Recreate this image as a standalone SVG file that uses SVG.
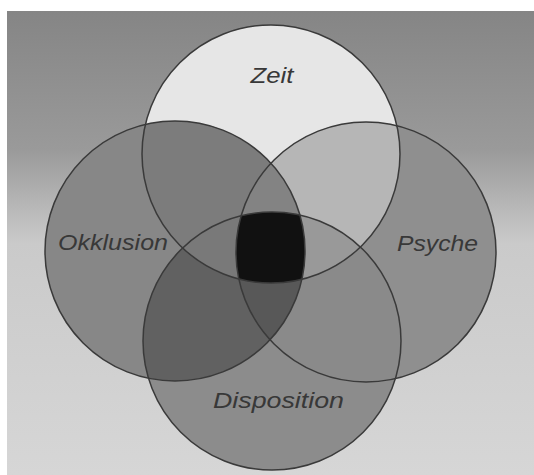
<svg xmlns="http://www.w3.org/2000/svg" width="534" height="475" viewBox="0 0 534 475">
  <defs>
    <linearGradient id="bg" x1="0" y1="0" x2="0" y2="1">
      <stop offset="0" stop-color="#858585"/>
      <stop offset="0.3" stop-color="#9a9a9a"/>
      <stop offset="0.5" stop-color="#cacaca"/>
      <stop offset="1" stop-color="#d6d6d6"/>
    </linearGradient>
    <clipPath id="cZ"><circle cx="271" cy="154" r="129"/></clipPath>
    <clipPath id="cO"><circle cx="175" cy="251" r="130"/></clipPath>
    <clipPath id="cP"><circle cx="366" cy="252" r="130"/></clipPath>
    <clipPath id="cD"><circle cx="272" cy="341" r="129"/></clipPath>
  </defs>
  <style>
    .outline { fill: none; stroke: #3a3a3a; stroke-width: 1.5; }
    .label { font-family: "Liberation Sans", Arial, sans-serif; font-style: italic; font-size: 22px; fill: #383838; }
  </style>
  <rect x="0" y="0" width="534" height="475" fill="#ffffff"/>
  <rect x="7" y="11" width="527" height="464" fill="url(#bg)"/>

  <g id="regions">
    <!-- single circles -->
    <circle cx="271" cy="154" r="129" fill="#e6e6e6"/>
    <circle cx="175" cy="251" r="130" fill="#878787"/>
    <circle cx="366" cy="252" r="130" fill="#8f8f8f"/>
    <circle cx="272" cy="341" r="129" fill="#8c8c8c"/>
    <!-- pairs -->
    <g clip-path="url(#cZ)"><circle cx="175" cy="251" r="130" fill="#7c7c7c"/></g>
    <g clip-path="url(#cZ)"><circle cx="366" cy="252" r="130" fill="#b6b6b6"/></g>
    <g clip-path="url(#cO)"><circle cx="272" cy="341" r="129" fill="#616161"/></g>
    <g clip-path="url(#cP)"><circle cx="272" cy="341" r="129" fill="#8a8a8a"/></g>
    <!-- triples -->
    <g clip-path="url(#cZ)"><g clip-path="url(#cO)"><circle cx="366" cy="252" r="130" fill="#838383"/></g></g>
    <g clip-path="url(#cZ)"><g clip-path="url(#cO)"><circle cx="272" cy="341" r="129" fill="#797979"/></g></g>
    <g clip-path="url(#cZ)"><g clip-path="url(#cP)"><circle cx="272" cy="341" r="129" fill="#999999"/></g></g>
    <g clip-path="url(#cO)"><g clip-path="url(#cP)"><circle cx="272" cy="341" r="129" fill="#585858"/></g></g>
    <!-- all four -->
    <g clip-path="url(#cZ)"><g clip-path="url(#cO)"><g clip-path="url(#cP)"><circle cx="272" cy="341" r="129" fill="#111111"/></g></g></g>
  </g>

  <g id="node-zeit">
    <circle class="outline" cx="271" cy="154" r="129"/>
    <text class="label" x="272" y="83" text-anchor="middle" textLength="43" lengthAdjust="spacingAndGlyphs">Zeit</text>
  </g>
  <g id="node-okklusion">
    <circle class="outline" cx="175" cy="251" r="130"/>
    <text class="label" x="58" y="250" textLength="110" lengthAdjust="spacingAndGlyphs">Okklusion</text>
  </g>
  <g id="node-psyche">
    <circle class="outline" cx="366" cy="252" r="130"/>
    <text class="label" x="397" y="251" textLength="81" lengthAdjust="spacingAndGlyphs">Psyche</text>
  </g>
  <g id="node-disposition">
    <circle class="outline" cx="272" cy="341" r="129"/>
    <text class="label" x="213" y="408" textLength="131" lengthAdjust="spacingAndGlyphs">Disposition</text>
  </g>
  <g id="connectors"/>
</svg>
